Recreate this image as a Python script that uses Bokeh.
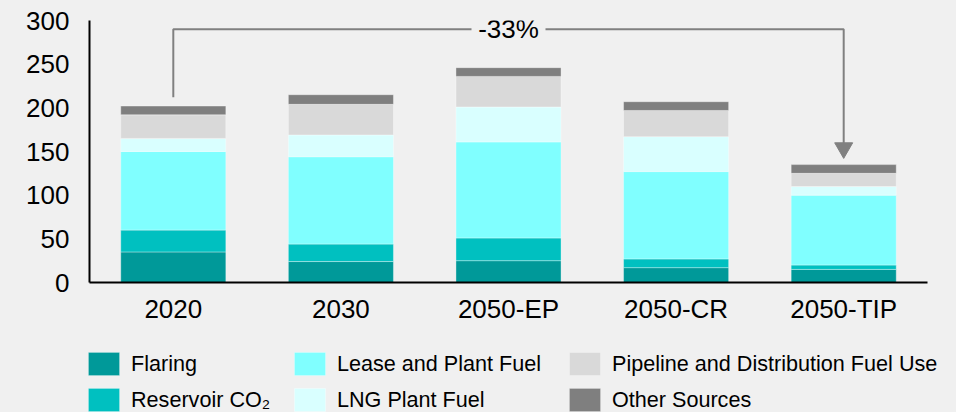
from bokeh.plotting import figure
from bokeh.layouts import column
from bokeh.models import Range1d, SingleIntervalTicker, Legend, LegendItem, ColumnDataSource
from bokeh.core.properties import value
from bokeh.embed import file_html
from bokeh.resources import INLINE

categories = ["2020", "2030", "2050-EP", "2050-CR", "2050-TIP"]
flaring = [35, 24, 25, 17, 15]
reservoir_co2 = [25, 20, 26, 10, 5]
lease_plant_fuel = [90, 100, 110, 100, 80]
lng_plant_fuel = [15, 25, 40, 40, 10]
pipeline_fuel = [27, 35, 35, 30, 15]
other_sources = [10, 11, 10, 10, 10]

series_keys = ["flaring", "reservoir", "lease", "lng", "pipeline", "other"]
series_names = ["Flaring", "Reservoir CO\u2082", "Lease and Plant Fuel", "LNG Plant Fuel",
                "Pipeline and Distribution Fuel Use", "Other Sources"]
colors = ["#009999", "#00C0C0", "#80FFFF", "#D9FFFF", "#D9D9D9", "#7F7F7F"]
y_ticks_interval = 50

FONT = "Liberation Sans"
BG = "#F0F0F0"

src = ColumnDataSource(dict(cat=categories, flaring=flaring, reservoir=reservoir_co2,
                            lease=lease_plant_fuel, lng=lng_plant_fuel,
                            pipeline=pipeline_fuel, other=other_sources))

p = figure(x_range=categories, y_range=Range1d(0, 300), width=956, height=340,
           output_backend="svg", toolbar_location=None, frame_align=False,
           min_border_left=89, min_border_right=29, min_border_top=20, min_border_bottom=58,
           background_fill_color=BG, border_fill_color=BG, outline_line_color=None)

rs = p.vbar_stack(series_keys, x="cat", width=0.627, fill_color=colors, source=src,
                  line_color="white", line_alpha=0.35, line_width=1)

# totals and change annotation
totals = [sum(v) for v in zip(flaring, reservoir_co2, lease_plant_fuel, lng_plant_fuel,
                              pipeline_fuel, other_sources)]
change = (totals[-1] - totals[0]) / totals[0]
top_y = 290
start_y = totals[0] + 10
tip_y = totals[-1] + 10
gray = "#808080"
p.line(x=[categories[0], categories[0], categories[-1], categories[-1]],
       y=[start_y, top_y, top_y, tip_y + 9], line_color=gray, line_width=2)
p.scatter(x=[categories[-1]], y=[tip_y + 9], marker="inverted_triangle", size=18,
          fill_color=gray, line_color=gray)
p.rect(x=[categories[2]], y=[top_y], width=74, height=28, width_units="screen",
       height_units="screen", fill_color=BG, line_color=None)
p.text(x=[categories[2]], y=[top_y], text=[f"{change*100:.0f}%"], text_align="center",
       text_baseline="middle", text_font=value(FONT), text_font_size="26px", text_color="black")

for ax in (p.xaxis, p.yaxis):
    ax.axis_line_color = "black"
    ax.axis_line_width = 2
    ax.major_tick_line_color = None
    ax.minor_tick_line_color = None
    ax.major_label_text_font = FONT
    ax.major_label_text_font_size = "26px"
    ax.major_label_text_color = "black"
p.xaxis.major_label_standoff = 5
p.yaxis.major_label_standoff = 14
p.yaxis.ticker = SingleIntervalTicker(interval=y_ticks_interval, num_minor_ticks=0)
p.xgrid.grid_line_color = None
p.ygrid.grid_line_color = None

# legend figure (three legend columns)
p2 = figure(width=956, height=72, output_backend="svg", toolbar_location=None,
            x_range=Range1d(0, 1), y_range=Range1d(0, 1), x_axis_type=None, y_axis_type=None,
            frame_align=False,
            min_border_left=0, min_border_right=0, min_border_top=0, min_border_bottom=0,
            background_fill_color=BG, border_fill_color=BG, outline_line_color=None)
p2.xgrid.grid_line_color = None
p2.ygrid.grid_line_color = None
legend_rs = [p2.vbar(x=[-5], top=[-5], width=1, fill_color=c, line_color="white", line_alpha=0.35)
             for c in colors]
col_x = [84, 290, 565]
for ci, x0 in enumerate(col_x):
    items = [LegendItem(label=series_names[k], renderers=[legend_rs[k]])
             for k in (2 * ci, 2 * ci + 1)]
    lg = Legend(items=items, orientation="vertical", location=(x0, -2),
                glyph_width=39, glyph_height=29, label_standoff=8, spacing=7,
                label_text_font=FONT, label_text_font_size="21.6px", label_text_color="black",
                padding=0, margin=0, border_line_color=None, background_fill_alpha=0)
    p2.add_layout(lg)

layout = column(p, p2, spacing=0, styles={"background-color": BG})
open("out.html", "w").write(file_html(layout, INLINE))
